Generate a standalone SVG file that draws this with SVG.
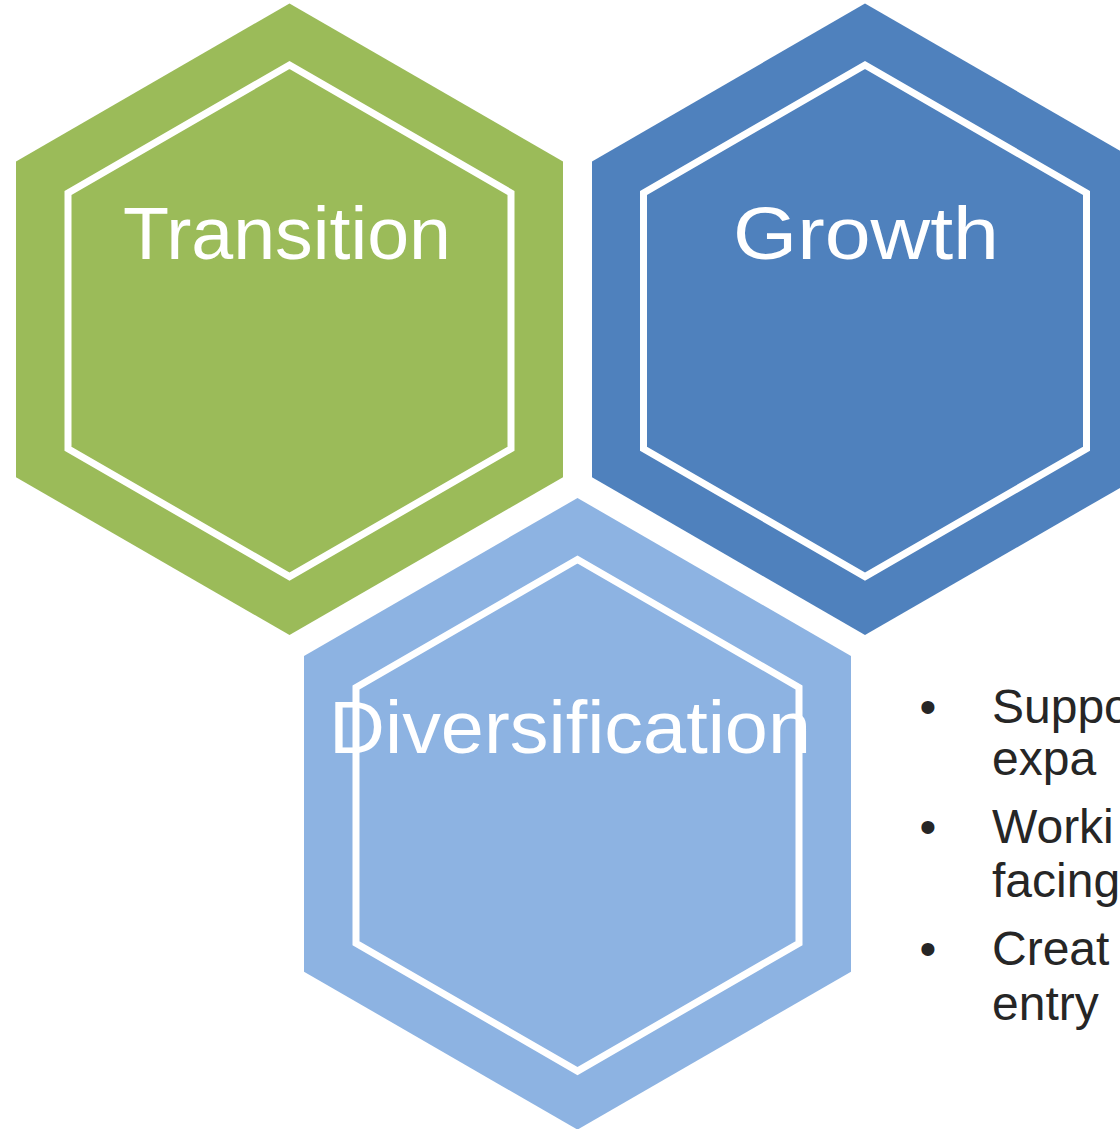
<svg xmlns="http://www.w3.org/2000/svg" width="1120" height="1129" viewBox="0 0 1120 1129">
<style>
.inner{fill:none;stroke:#ffffff;stroke-width:7}
.title{font-family:"Liberation Sans",Arial,sans-serif;font-size:75px;fill:#ffffff;text-anchor:middle}
.body{font-family:"Liberation Sans",Arial,sans-serif;font-size:48px;fill:#262626}
</style>
<rect width="1120" height="1129" fill="#ffffff"/>
<g id="transition">
<polygon fill="#9bbb59" points="289.5,3.5 563,161.4 563,477.2 289.5,635.1 16,477.2 16,161.4"/>
<polygon class="inner" points="289.5,65 511,192.9 511,448.7 289.5,576.6 68,448.7 68,192.9"/>
<text class="title" x="287" y="259" textLength="328" lengthAdjust="spacingAndGlyphs">Transition</text>
</g>
<g id="growth">
<polygon fill="#4f81bd" points="865,3.5 1138.5,161.4 1138.5,477.2 865,635.1 592,477.2 592,161.4"/>
<polygon class="inner" points="865,65 1086.5,192.9 1086.5,448.7 865,576.6 643.5,448.7 643.5,192.9"/>
<text class="title" x="866" y="259" textLength="266" lengthAdjust="spacingAndGlyphs">Growth</text>
</g>
<g id="diversification">
<polygon fill="#8db3e2" points="577.5,498 851,655.9 851,971.7 577.5,1129.6 304,971.7 304,655.9"/>
<polygon class="inner" points="577.5,559.5 799,687.4 799,943.2 577.5,1071.1 356,943.2 356,687.4"/>
<text class="title" x="570" y="753" textLength="482" lengthAdjust="spacingAndGlyphs">Diversification</text>
</g>
<g id="bullets" class="body">
<text x="928" y="723" text-anchor="middle">•</text>
<text x="992" y="723">Suppo</text>
<text x="992" y="775">expa</text>
<text x="928" y="843" text-anchor="middle">•</text>
<text x="992" y="843">Worki</text>
<text x="992" y="897">facing</text>
<text x="928" y="965" text-anchor="middle">•</text>
<text x="992" y="965">Creat</text>
<text x="992" y="1020">entry</text>
</g>
<g id="connectors"/>
</svg>
